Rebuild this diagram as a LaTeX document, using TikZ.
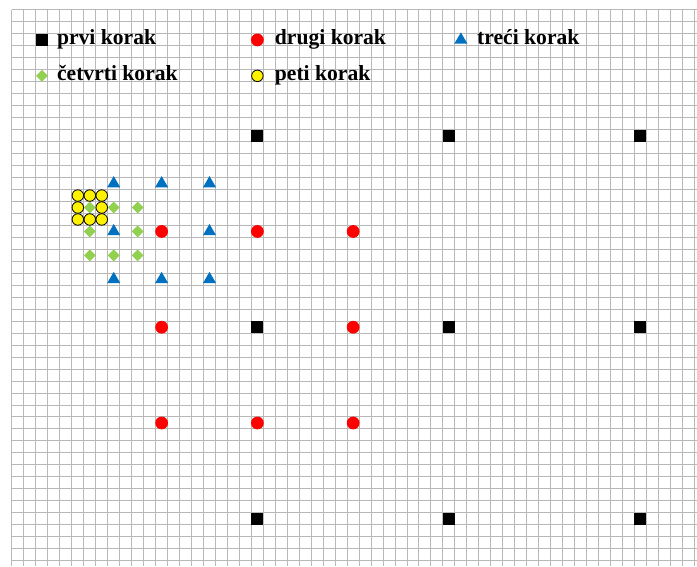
\documentclass[tikz,border=0pt]{standalone}
\usepackage{fontspec}
\setmainfont{Liberation Serif}
\usetikzlibrary{shapes.geometric}
\definecolor{stepblue}{RGB}{0,112,192}
\definecolor{stepgreen}{RGB}{146,208,80}
\begin{document}
\begin{tikzpicture}[x=11.97pt, y=-11.97pt,
  gridline/.style={draw=black!28, line width=1pt},
  firststep/.style={rectangle, fill=black, inner sep=0pt, minimum size=12pt},
  secondstep/.style={circle, fill=red, inner sep=0pt, minimum size=12.8pt},
  thirdstep/.style={regular polygon, regular polygon sides=3, fill=stepblue, inner sep=0pt, minimum size=15pt},
  fourthstep/.style={diamond, fill=stepgreen, inner sep=0pt, minimum size=12pt},
  fifthstep/.style={circle, fill=yellow, draw=black, line width=0.8pt, inner sep=0pt, minimum size=11.5pt},
  legtext/.style={anchor=base west, inner sep=0pt, font=\fontsize{21.6}{24}\selectfont\bfseries}]
\useasboundingbox[fill=white] (-1.0025,-0.8354) rectangle (57.226,46.45);
\foreach \i in {0,...,57} \draw[gridline] (\i,0) -- (\i,46.45);
\foreach \j in {0,...,46} \draw[gridline] (0,\j) -- (57.226,\j);
\node[firststep] (leg1) at (2.5,2.5) {};
\node[legtext] (txt1) at (3.75,2.85) {prvi korak};
\node[secondstep] (leg2) at (20.5,2.5) {};
\node[legtext] (txt2) at (21.95,2.85) {drugi korak};
\node[thirdstep] (leg3) at (37.5,2.5) {};
\node[legtext] (txt3) at (38.85,2.85) {treći korak};
\node[fourthstep] (leg4) at (2.5,5.5) {};
\node[legtext] (txt4) at (3.75,5.85) {četvrti korak};
\node[fifthstep] (leg5) at (20.5,5.5) {};
\node[legtext] (txt5) at (21.95,5.85) {peti korak};
\foreach \c in {20,36,52} \foreach \r in {10,26,42}
  \node[firststep] (first-\c-\r) at (\c+0.5,\r+0.5) {};
\foreach \dc/\dr [count=\k] in {-1/-1,0/-1,1/-1,-1/0,1/0,-1/1,0/1,1/1} {
  \node[secondstep] (second\k) at ({20.5+8*\dc},{26.5+8*\dr}) {};
  \node[thirdstep] (third\k) at ({12.5+4*\dc},{18.5+4*\dr}) {};
  \node[fourthstep] (fourth\k) at ({8.5+2*\dc},{18.5+2*\dr}) {};
  \node[fifthstep] (fifth\k) at ({6.5+\dc},{16.5+\dr}) {};
}
\end{tikzpicture}
\end{document}
